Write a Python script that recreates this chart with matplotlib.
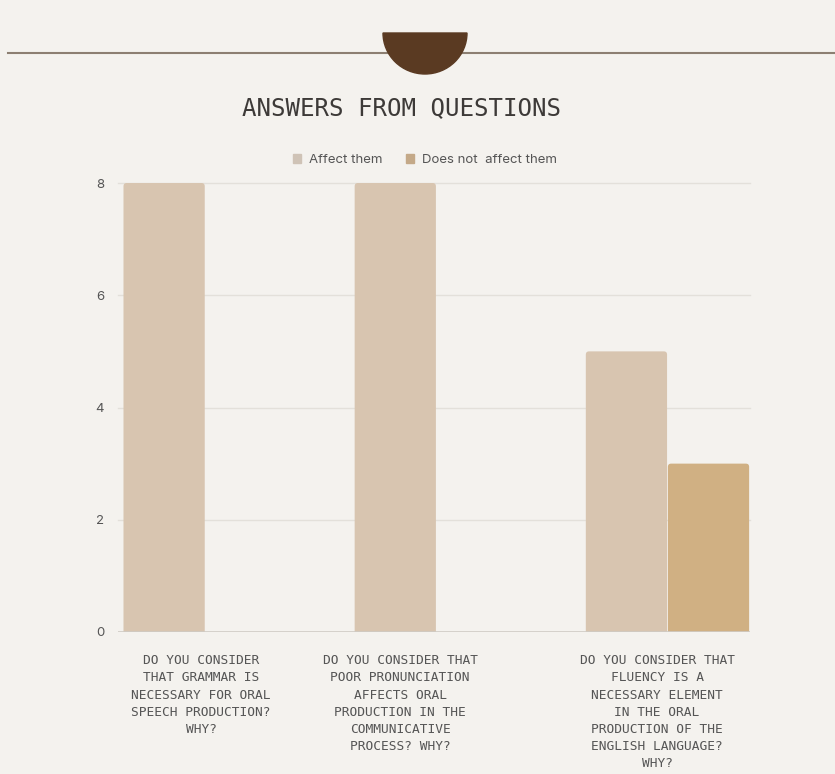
# Answers from questions - grouped bars

import matplotlib.pyplot as plt
from matplotlib.patches import Wedge, FancyBboxPatch, Patch
import numpy as np

categories = [
    "DO YOU CONSIDER\nTHAT GRAMMAR IS\nNECESSARY FOR ORAL\nSPEECH PRODUCTION?\nWHY?",
    "DO YOU CONSIDER THAT\nPOOR PRONUNCIATION\nAFFECTS ORAL\nPRODUCTION IN THE\nCOMMUNICATIVE\nPROCESS? WHY?",
    "DO YOU CONSIDER THAT\nFLUENCY IS A\nNECESSARY ELEMENT\nIN THE ORAL\nPRODUCTION OF THE\nENGLISH LANGUAGE?\nWHY?",
]
affect = [8, 8, 5]
not_affect = [0, 0, 3]
series_names = ["Affect them", "Does not  affect them"]
yticks = [0, 2, 4, 6, 8]

bg = "#f4f2ee"
c_affect = "#d8c5b0"
c_not = "#d0b083"
txt = "#555555"

fig = plt.figure(figsize=(8.35, 7.74), dpi=100)
fig.patch.set_facecolor(bg)

# top decoration: line + brown bowl on top of it
fig.add_artist(plt.Line2D([8 / 835, 1.0], [1 - 53 / 774] * 2, color="#8c7f72", lw=1.5, zorder=-1))
deco = fig.add_axes([383 / 835, 1 - 74 / 774, 84 / 835, 41 / 774], zorder=5)
deco.set_xlim(-1, 1)
deco.set_ylim(-1, 0)
deco.axis("off")
deco.add_patch(Wedge((0, 0), 1, 180, 360, color="#5a3a22", clip_on=False))

ax = fig.add_axes([118 / 835, 1 - 632 / 774, (750 - 118) / 835, (632 - 183) / 774])
ax.set_facecolor("none")

x = np.arange(len(categories))
w = 0.355
b1 = ax.bar(x - w / 2, affect, w * 0.99, color=c_affect, zorder=3)
b2 = ax.bar(x + w / 2, not_affect, w * 0.99, color=c_not, zorder=3)

ax.set_xlim(-0.377, 2.357)
ax.set_ylim(0, 8)

# rounded tops
aspect = (8 / 449) / (1 / 231.25)
for bars in (b1, b2):
    for r in bars:
        if r.get_height() <= 0:
            continue
        r.set_visible(False)
        ax.add_patch(FancyBboxPatch((r.get_x(), -0.2), r.get_width(), r.get_height() + 0.2,
                                    boxstyle="round,pad=0,rounding_size=0.014",
                                    mutation_aspect=aspect, fc=r.get_facecolor(),
                                    ec="none", zorder=3))

ax.set_yticks(yticks)
ax.set_yticklabels([str(v) for v in yticks], fontsize=9.5, color=txt, family="Inter")
for v in yticks[1:]:
    ax.axhline(v, color="#e3e0da", lw=1, zorder=1, clip_on=False)
ax.axhline(0, color="#cfcbc4", lw=1.2, zorder=4)
ax.tick_params(axis="y", length=0, pad=10)
ax.tick_params(axis="x", length=0, pad=16)

# label centres sit a bit off the group centres in the original
label_pos = [-0.017, 0.843, 1.955]
ax.set_xticks(label_pos)
ax.set_xticklabels(categories, fontsize=9.3, color=txt, family="DejaVu Sans Mono",
                   linespacing=1.42, ha="center", va="top")
for s in ax.spines.values():
    s.set_visible(False)

fig.text(402 / 835, 1 - 108.5 / 774, "ANSWERS FROM QUESTIONS", ha="center", va="center",
         fontsize=17.4, color="#3d3a38", family="DejaVu Sans Mono")

handles = [Patch(color="#cfc3b6"), Patch(color="#c4a988")]
leg = fig.legend(handles, series_names, loc="center", bbox_to_anchor=(425 / 835, 1 - 160 / 774),
                 ncol=2, frameon=False, fontsize=9.5, handlelength=0.6, handleheight=0.6,
                 handletextpad=0.6, columnspacing=1.8)
for t in leg.get_texts():
    t.set_color(txt)
    t.set_family("Inter")

plt.savefig("out.png", dpi=100, facecolor=bg)
